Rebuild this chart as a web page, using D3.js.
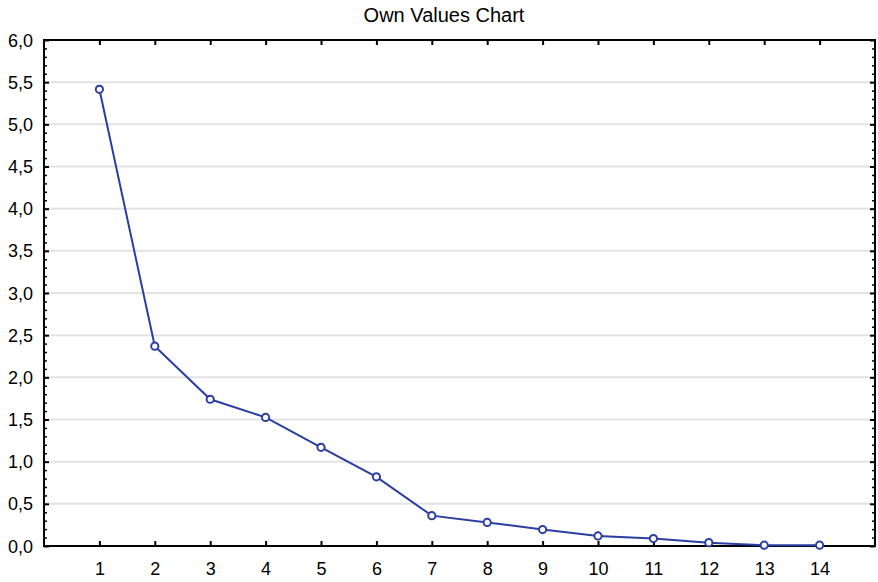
<!DOCTYPE html>
<html>
<head>
<meta charset="utf-8">
<script src="https://cdn.jsdelivr.net/npm/d3@7"></script>
<style>
  html, body { margin: 0; padding: 0; background: #fff; }
  svg { display: block; font-family: Arial, "Liberation Sans", sans-serif; }
</style>
</head>
<body>
<svg id="chart" width="878" height="582"></svg>
<script>
// Eigenvalues by component number
const components = [1, 2, 3, 4, 5, 6, 7, 8, 9, 10, 11, 12, 13, 14];
const ownValues = [5.415, 2.37, 1.74, 1.525, 1.17, 0.82, 0.36, 0.28, 0.195, 0.12, 0.088, 0.04, 0.01, 0.01];
const yTickValues = [0, 0.5, 1, 1.5, 2, 2.5, 3, 3.5, 4, 4.5, 5, 5.5, 6];
const chartTitle = "Own Values Chart";

const svg = d3.select("#chart");
const plotLeft = 44, plotRight = 875, plotTop = 40, plotBottom = 546;
const labelSize = 18;

const x = d3.scaleLinear().domain([0, 15]).range([plotLeft, plotRight]);
const y = d3.scaleLinear().domain([0, 6]).range([plotBottom, plotTop]);
const fmt = v => d3.format(".1f")(v).replace(".", ",");

// horizontal gridlines
svg.append("g").selectAll("line")
  .data(yTickValues.filter(v => v > 0 && v < 6))
  .join("line")
  .attr("x1", plotLeft).attr("x2", plotRight)
  .attr("y1", d => y(d)).attr("y2", d => y(d))
  .attr("stroke", "#e3e3e3").attr("stroke-width", 2);

// minor ticks every 0.1 on both vertical sides, pointing inward
const minor = d3.range(1, 60).map(i => i / 10).filter(v => Math.abs(v * 2 - Math.round(v * 2)) > 1e-6);
const axisColor = "#000";
const leftAxis = d3.axisLeft(y).tickValues(yTickValues).tickFormat(fmt).tickSize(-5);
const gL = svg.append("g").attr("transform", `translate(${plotLeft},0)`).call(leftAxis);
gL.attr("font-size", labelSize).attr("font-family", null);
gL.select(".domain").remove();
gL.selectAll(".tick line").attr("stroke", axisColor).attr("stroke-width", 2);
gL.selectAll(".tick text").attr("fill", "#000").attr("x", -11).attr("dy", "0.34em");

const leftMinor = d3.axisLeft(y).tickValues(minor).tickFormat("").tickSize(-3);
const gLm = svg.append("g").attr("transform", `translate(${plotLeft},0)`).call(leftMinor);
gLm.select(".domain").remove();
gLm.selectAll(".tick line").attr("stroke", axisColor).attr("stroke-width", 1.5);

const rightAxis = d3.axisRight(y).tickValues(yTickValues).tickFormat("").tickSize(-5);
const gR = svg.append("g").attr("transform", `translate(${plotRight},0)`).call(rightAxis);
gR.select(".domain").remove();
gR.selectAll(".tick line").attr("stroke", axisColor).attr("stroke-width", 2);
const rightMinor = d3.axisRight(y).tickValues(minor).tickFormat("").tickSize(-3);
const gRm = svg.append("g").attr("transform", `translate(${plotRight},0)`).call(rightMinor);
gRm.select(".domain").remove();
gRm.selectAll(".tick line").attr("stroke", axisColor).attr("stroke-width", 1.5);

// bottom and top axes with inward ticks at each component
const bottomAxis = d3.axisBottom(x).tickValues(components).tickFormat(d3.format("d")).tickSize(-5);
const gB = svg.append("g").attr("transform", `translate(0,${plotBottom})`).call(bottomAxis);
gB.attr("font-size", labelSize).attr("font-family", null);
gB.select(".domain").remove();
gB.selectAll(".tick line").attr("stroke", axisColor).attr("stroke-width", 2);
gB.selectAll(".tick text").attr("fill", "#000").attr("y", 29).attr("dy", null);

const topAxis = d3.axisTop(x).tickValues(components).tickFormat("").tickSize(-5);
const gT = svg.append("g").attr("transform", `translate(0,${plotTop})`).call(topAxis);
gT.select(".domain").remove();
gT.selectAll(".tick line").attr("stroke", axisColor).attr("stroke-width", 2);

// plot frame
svg.append("rect")
  .attr("x", plotLeft).attr("y", plotTop)
  .attr("width", plotRight - plotLeft).attr("height", plotBottom - plotTop)
  .attr("fill", "none").attr("stroke", "#000").attr("stroke-width", 2);

// data line and markers
const data = components.map((c, i) => ({ c, v: ownValues[i] }));
svg.append("path")
  .datum(data)
  .attr("fill", "none")
  .attr("stroke", "#2a3ea3")
  .attr("stroke-width", 2)
  .attr("d", d3.line().x(d => x(d.c)).y(d => y(d.v)));

svg.append("g").selectAll("circle")
  .data(data)
  .join("circle")
  .attr("cx", d => x(d.c)).attr("cy", d => y(d.v))
  .attr("r", 3.6)
  .attr("fill", "#fff")
  .attr("stroke", "#2a3ea3")
  .attr("stroke-width", 2);

// title
svg.append("text")
  .attr("x", 444).attr("y", 22)
  .attr("text-anchor", "middle")
  .attr("font-size", 20)
  .attr("fill", "#000")
  .text(chartTitle);
</script>
</body>
</html>
